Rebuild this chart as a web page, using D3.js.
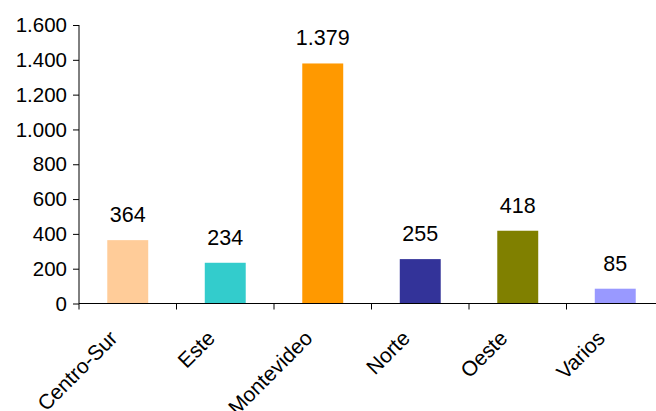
<!DOCTYPE html>
<html>
<head>
<meta charset="utf-8">
<script src="https://cdn.jsdelivr.net/npm/d3@7"></script>
<style>
  body { margin: 0; background: #fff; }
  text { font-family: "Liberation Sans", Arial, sans-serif; fill: #000; }
</style>
</head>
<body>
<svg id="chart" width="656" height="411"></svg>
<script>
'use strict';

const regions = ['Centro-Sur', 'Este', 'Montevideo', 'Norte', 'Oeste', 'Varios'];
const totals = [364, 234, 1379, 255, 418, 85];
const barColors = ['#FFCC99', '#33CCCC', '#FF9900', '#333399', '#808000', '#9999FF'];
const yTicks = [0, 200, 400, 600, 800, 1000, 1200, 1400, 1600];

const svg = d3.select('#chart');
const plotLeft = 79, plotRight = 664, plotTop = 25, plotBottom = 303.5;

const locale = d3.formatLocale({ decimal: ',', thousands: '.', grouping: [3], currency: ['', ''] });
const fmt = locale.format(',d');

const x = d3.scaleBand().domain(regions).range([plotLeft, plotRight]).padding(0);
const y = d3.scaleLinear().domain([0, 1600]).range([plotBottom, plotTop]);
const barW = x.bandwidth() * 0.42;

// y axis
const yAxis = svg.append('g')
  .attr('transform', `translate(${plotLeft},0)`)
  .call(d3.axisLeft(y).tickValues(yTicks).tickFormat(fmt).tickSize(6).tickPadding(6));
yAxis.selectAll('path, line').attr('stroke', '#000');
yAxis.selectAll('.domain').attr('d', `M0,${plotTop}V${plotBottom}`);
yAxis.selectAll('text').style('font-size', '20.5px').attr('font-family', null);

// bars
svg.append('g')
  .selectAll('rect')
  .data(regions)
  .join('rect')
  .attr('x', d => x(d) + (x.bandwidth() - barW) / 2)
  .attr('y', (d, i) => y(totals[i]))
  .attr('width', barW)
  .attr('height', (d, i) => plotBottom - y(totals[i]))
  .attr('fill', (d, i) => barColors[i]);

// value labels
svg.append('g')
  .selectAll('text')
  .data(regions)
  .join('text')
  .attr('x', d => x(d) + x.bandwidth() / 2)
  .attr('y', (d, i) => y(totals[i]) - 18)
  .attr('text-anchor', 'middle')
  .style('font-size', '21.5px')
  .text((d, i) => fmt(totals[i]));

// x axis
const xg = svg.append('g').attr('transform', `translate(0,${plotBottom})`);
xg.append('line')
  .attr('x1', plotLeft).attr('x2', plotRight)
  .attr('stroke', '#000');
xg.selectAll('line.tick')
  .data(regions.concat(['end']))
  .join('line')
  .attr('class', 'tick')
  .attr('x1', (d, i) => plotLeft + i * x.bandwidth())
  .attr('x2', (d, i) => plotLeft + i * x.bandwidth())
  .attr('y1', 0).attr('y2', 6)
  .attr('stroke', '#000');
xg.selectAll('text')
  .data(regions)
  .join('text')
  .attr('transform', d => `translate(${x(d) + x.bandwidth() / 2 - 9},36) rotate(-45)`)
  .attr('text-anchor', 'end')
  .style('font-size', '21px')
  .text(d => d);
</script>
</body>
</html>
